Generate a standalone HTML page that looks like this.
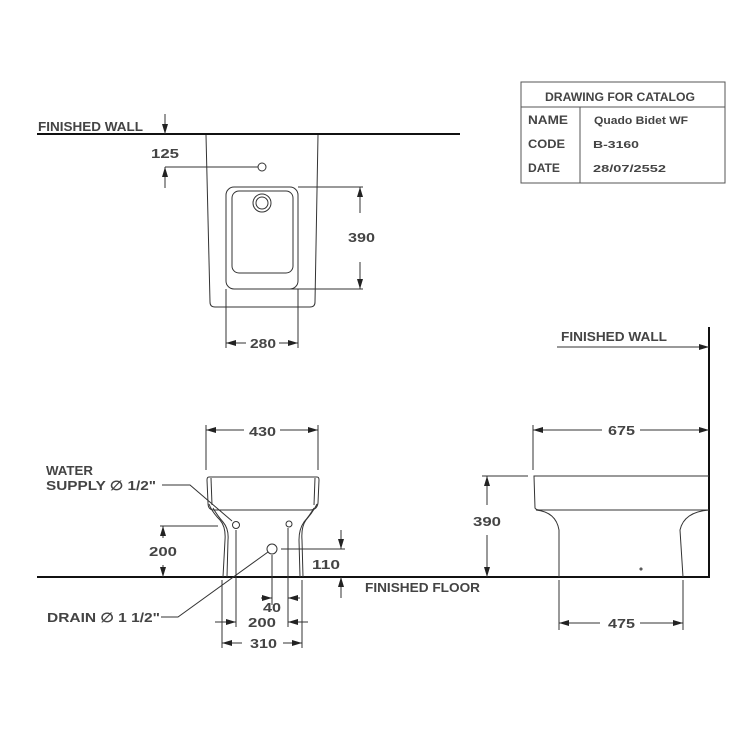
<!DOCTYPE html>
<html><head><meta charset="utf-8"><style>
html,body{margin:0;padding:0;background:#fff;}
svg{display:block;}
text{font-family:"Liberation Sans",sans-serif;fill:#444;font-weight:bold;}
</style></head><body>
<svg width="740" height="740" viewBox="0 0 740 740" xmlns="http://www.w3.org/2000/svg">
<defs>
<marker id="a" viewBox="0 0 10 6" refX="10" refY="3" markerWidth="10" markerHeight="6" markerUnits="userSpaceOnUse" orient="auto-start-reverse"><path d="M0,0 L10,3 L0,6 z" fill="#222"/></marker>
</defs>
<g stroke="#333" fill="none" stroke-width="1">
<rect x="521" y="82" width="204" height="101" stroke="#555"/>
<line x1="521" y1="107" x2="725" y2="107" stroke="#555"/>
<line x1="580" y1="107" x2="580" y2="183" stroke="#555"/>

<line x1="37" y1="134" x2="460" y2="134" stroke="#111" stroke-width="2"/>
<line x1="165" y1="114" x2="165" y2="134" marker-end="url(#a)"/>
<line x1="165" y1="188" x2="165" y2="167" marker-end="url(#a)"/>
<line x1="165" y1="167" x2="258" y2="167"/>
<circle cx="262" cy="167" r="4"/>
<path d="M206,135 L210,302 Q210,307 215,307 L310,307 Q315,307 315,302 L318,135"/>
<rect x="226" y="187" width="72" height="102" rx="8"/>
<rect x="232" y="191" width="61" height="82" rx="7"/>
<circle cx="262" cy="203" r="9"/>
<circle cx="262" cy="203" r="6"/>
<line x1="298" y1="187" x2="363" y2="187"/>
<line x1="270" y1="289" x2="363" y2="289"/>
<line x1="360" y1="213" x2="360" y2="187" marker-end="url(#a)"/>
<line x1="360" y1="262" x2="360" y2="289" marker-end="url(#a)"/>
<line x1="226" y1="289" x2="226" y2="348"/>
<line x1="298" y1="289" x2="298" y2="348"/>
<line x1="246" y1="343" x2="226" y2="343" marker-end="url(#a)"/>
<line x1="279" y1="343" x2="298" y2="343" marker-end="url(#a)"/>

<line x1="37" y1="577" x2="710" y2="577" stroke="#111" stroke-width="2"/>
<line x1="206" y1="425" x2="206" y2="470"/>
<line x1="318" y1="425" x2="318" y2="470"/>
<line x1="244" y1="430" x2="206" y2="430" marker-end="url(#a)"/>
<line x1="280" y1="430" x2="318" y2="430" marker-end="url(#a)"/>
<path d="M209,477 L317,477 Q319,477 319,480 L318,503 Q317,510 310,510 L214,510 Q208,510 208,503 L207,480 Q207,477 209,477"/>
<line x1="211" y1="478" x2="212" y2="505"/>
<line x1="315" y1="478" x2="314" y2="505"/>
<path d="M209,504 Q212,512 220,520 Q226,527 225,540 L223,577"/>
<path d="M213,508 Q217,515 223,522 Q229,529 228,540 L227,577"/>
<path d="M317,504 Q313,512 306,520 Q301,527 302,540 L303,577"/>
<path d="M314,508 Q310,515 304,522 Q299,529 299,540 L300,577"/>
<circle cx="236" cy="525" r="3.5"/>
<circle cx="289" cy="524" r="3"/>
<circle cx="272" cy="549" r="5"/>
<path d="M162,485 L190,485 L232,521"/>
<path d="M161,617 L178,617 L268,552"/>
<line x1="160" y1="526" x2="218" y2="526"/>
<line x1="163" y1="538" x2="163" y2="526" marker-end="url(#a)"/>
<line x1="163" y1="565" x2="163" y2="577" marker-end="url(#a)"/>
<line x1="281" y1="549" x2="345" y2="549"/>
<line x1="341" y1="530" x2="341" y2="549" marker-end="url(#a)"/>
<line x1="341" y1="598" x2="341" y2="577" marker-end="url(#a)"/>
<line x1="222" y1="580" x2="222" y2="648"/>
<line x1="236" y1="530" x2="236" y2="627"/>
<line x1="272" y1="555" x2="272" y2="605"/>
<line x1="288" y1="528" x2="288" y2="627"/>
<line x1="302" y1="580" x2="302" y2="648"/>
<line x1="261" y1="598" x2="272" y2="598" marker-end="url(#a)"/>
<line x1="300" y1="598" x2="288" y2="598" marker-end="url(#a)"/>
<line x1="215" y1="622" x2="236" y2="622" marker-end="url(#a)"/>
<line x1="308" y1="622" x2="288" y2="622" marker-end="url(#a)"/>
<line x1="242" y1="643" x2="222" y2="643" marker-end="url(#a)"/>
<line x1="283" y1="643" x2="302" y2="643" marker-end="url(#a)"/>

<line x1="709" y1="327" x2="709" y2="578" stroke="#111" stroke-width="2"/>
<line x1="557" y1="347" x2="709" y2="347" marker-end="url(#a)"/>
<line x1="533" y1="425" x2="533" y2="470"/>
<line x1="602" y1="430" x2="533" y2="430" marker-end="url(#a)"/>
<line x1="640" y1="430" x2="709" y2="430" marker-end="url(#a)"/>
<path d="M709,476 L534,476 L535,508 Q536,510 540,510 L709,510"/>
<path d="M536,510 Q556,512 559,530 L559,577"/>
<path d="M709,510 Q684,512 680,530 L683,577"/>
<circle cx="641" cy="569" r="1"/>
<line x1="482" y1="476" x2="528" y2="476"/>
<line x1="487" y1="505" x2="487" y2="476" marker-end="url(#a)"/>
<line x1="487" y1="535" x2="487" y2="577" marker-end="url(#a)"/>
<line x1="559" y1="580" x2="559" y2="630"/>
<line x1="683" y1="580" x2="683" y2="630"/>
<line x1="600" y1="623" x2="559" y2="623" marker-end="url(#a)"/>
<line x1="640" y1="623" x2="683" y2="623" marker-end="url(#a)"/>
</g>

<g font-size="13">
<text x="545" y="101" textLength="150" lengthAdjust="spacingAndGlyphs" font-size="12">DRAWING FOR CATALOG</text>
<text x="528" y="124" textLength="40" lengthAdjust="spacingAndGlyphs" font-size="12">NAME</text>
<text x="528" y="148" textLength="37" lengthAdjust="spacingAndGlyphs" font-size="12">CODE</text>
<text x="528" y="172" textLength="32" lengthAdjust="spacingAndGlyphs" font-size="12">DATE</text>
<text x="594" y="124" textLength="94" lengthAdjust="spacingAndGlyphs" font-size="11">Quado Bidet WF</text>
<text x="593" y="148" textLength="46" lengthAdjust="spacingAndGlyphs" font-size="10">B-3160</text>
<text x="593" y="172" textLength="73" lengthAdjust="spacingAndGlyphs" font-size="10">28/07/2552</text>

<text x="38" y="131" textLength="105" lengthAdjust="spacingAndGlyphs">FINISHED WALL</text>
<text x="151" y="158" textLength="28" lengthAdjust="spacingAndGlyphs">125</text>
<text x="348" y="242" textLength="27" lengthAdjust="spacingAndGlyphs">390</text>
<text x="250" y="348" textLength="26" lengthAdjust="spacingAndGlyphs">280</text>
<text x="249" y="436" textLength="27" lengthAdjust="spacingAndGlyphs">430</text>
<text x="46" y="475" textLength="47" lengthAdjust="spacingAndGlyphs">WATER</text>
<text x="46" y="490" textLength="110" lengthAdjust="spacingAndGlyphs">SUPPLY ∅  1/2"</text>
<text x="149" y="556" textLength="28" lengthAdjust="spacingAndGlyphs">200</text>
<text x="312" y="569" textLength="28" lengthAdjust="spacingAndGlyphs">110</text>
<text x="365" y="592" textLength="115" lengthAdjust="spacingAndGlyphs">FINISHED FLOOR</text>
<text x="263" y="612" textLength="18" lengthAdjust="spacingAndGlyphs">40</text>
<text x="248" y="627" textLength="28" lengthAdjust="spacingAndGlyphs">200</text>
<text x="250" y="648" textLength="27" lengthAdjust="spacingAndGlyphs">310</text>
<text x="47" y="622" textLength="113" lengthAdjust="spacingAndGlyphs">DRAIN ∅ 1  1/2"</text>
<text x="561" y="341" textLength="106" lengthAdjust="spacingAndGlyphs">FINISHED WALL</text>
<text x="608" y="435" textLength="27" lengthAdjust="spacingAndGlyphs">675</text>
<text x="473" y="526" textLength="28" lengthAdjust="spacingAndGlyphs">390</text>
<text x="608" y="628" textLength="27" lengthAdjust="spacingAndGlyphs">475</text>
</g>
</svg>
</body></html>
